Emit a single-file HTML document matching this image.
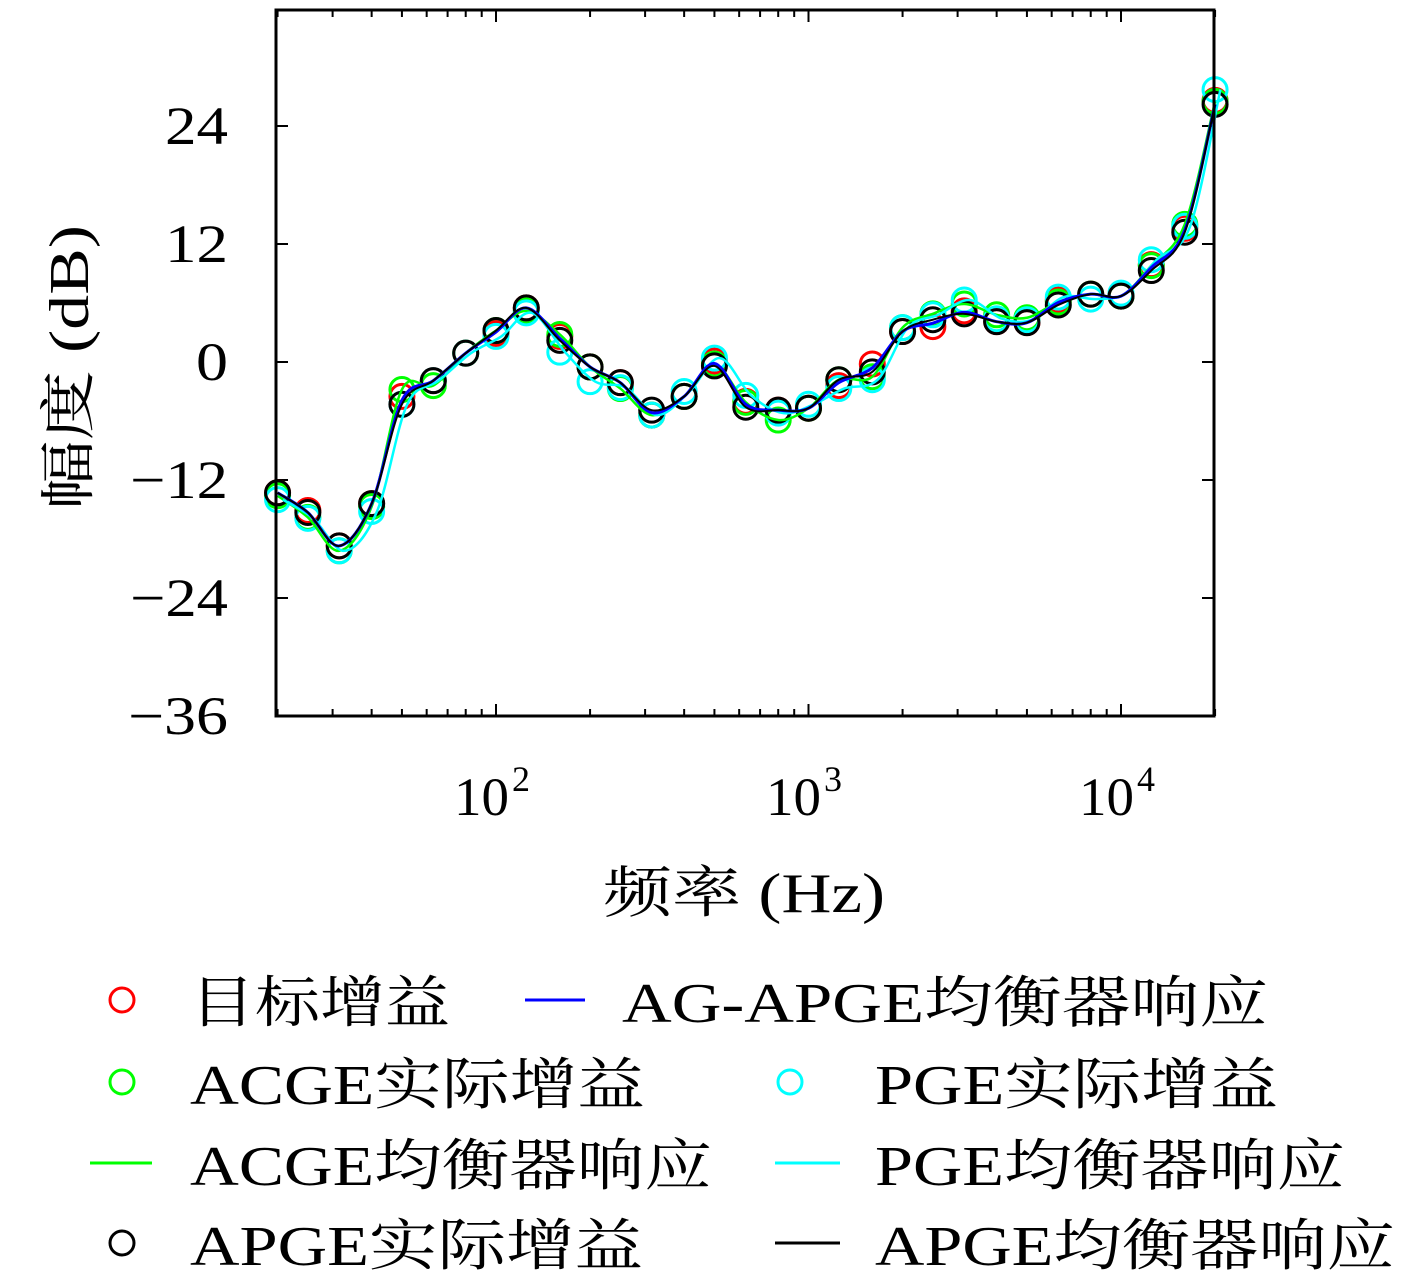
<!DOCTYPE html>
<html><head><meta charset="utf-8">
<style>
html,body{margin:0;padding:0;background:#fff;}
svg{display:block;}
text{font-family:"Liberation Serif","Noto Serif CJK SC",serif;fill:#000;}
</style></head>
<body>
<svg id="s" width="1417" height="1276" xmlns="http://www.w3.org/2000/svg">
<rect x="0" y="0" width="1417" height="1276" fill="#fff"/>
<g id="plot"></g>
<rect x="276" y="10" width="938" height="706" fill="none" stroke="#000" stroke-width="3"/>
<g font-size="54" lengthAdjust="spacingAndGlyphs">
<text x="165" y="144" textLength="63" lengthAdjust="spacingAndGlyphs">24</text>
<text x="165" y="262" textLength="63" lengthAdjust="spacingAndGlyphs">12</text>
<text x="196" y="380" textLength="32" lengthAdjust="spacingAndGlyphs">0</text>
<text x="130" y="498" textLength="98" lengthAdjust="spacingAndGlyphs">−12</text>
<text x="130" y="616" textLength="98" lengthAdjust="spacingAndGlyphs">−24</text>
<text x="128" y="734" textLength="100" lengthAdjust="spacingAndGlyphs">−36</text>
</g>
<g font-size="54">
<text x="454" y="815" textLength="55" lengthAdjust="spacingAndGlyphs">10</text><text x="512" y="791" font-size="36">2</text>
<text x="766" y="815" textLength="55" lengthAdjust="spacingAndGlyphs">10</text><text x="824" y="791" font-size="36">3</text>
<text x="1079" y="815" textLength="55" lengthAdjust="spacingAndGlyphs">10</text><text x="1137" y="791" font-size="36">4</text>
</g>
<text x="603" y="912" font-size="56" textLength="282" lengthAdjust="spacingAndGlyphs">频率 (Hz)</text>
<text transform="translate(88,510) rotate(-90)" font-size="56" textLength="285" lengthAdjust="spacingAndGlyphs">幅度 (dB)</text>
<g font-size="56">
<circle cx="122" cy="1000" r="12" fill="none" stroke="#f00" stroke-width="3"/>
<text x="190" y="1022" textLength="260" lengthAdjust="spacingAndGlyphs">目标增益</text>
<line x1="525" y1="1000" x2="585" y2="1000" stroke="#00f" stroke-width="3"/>
<text x="622" y="1022" textLength="646" lengthAdjust="spacingAndGlyphs">AG-APGE均衡器响应</text>
<circle cx="122" cy="1082" r="12" fill="none" stroke="#0f0" stroke-width="3"/>
<text x="190" y="1104" textLength="455" lengthAdjust="spacingAndGlyphs">ACGE实际增益</text>
<circle cx="790" cy="1082" r="12" fill="none" stroke="#0ff" stroke-width="3"/>
<text x="875" y="1104" textLength="403" lengthAdjust="spacingAndGlyphs">PGE实际增益</text>
<line x1="90" y1="1163" x2="152" y2="1163" stroke="#0f0" stroke-width="3"/>
<text x="190" y="1185" textLength="522" lengthAdjust="spacingAndGlyphs">ACGE均衡器响应</text>
<line x1="775" y1="1163" x2="840" y2="1163" stroke="#0ff" stroke-width="3"/>
<text x="875" y="1185" textLength="470" lengthAdjust="spacingAndGlyphs">PGE均衡器响应</text>
<circle cx="122" cy="1243" r="12" fill="none" stroke="#000" stroke-width="3"/>
<text x="190" y="1265" textLength="453" lengthAdjust="spacingAndGlyphs">APGE实际增益</text>
<line x1="775" y1="1243" x2="840" y2="1243" stroke="#000" stroke-width="3"/>
<text x="875" y="1265" textLength="520" lengthAdjust="spacingAndGlyphs">APGE均衡器响应</text>
</g>
</svg>
<script>
var f=[20,25,31.5,40,50,63,80,100,125,160,200,250,315,400,500,630,800,1000,1250,1600,2000,2500,3150,4000,5000,6300,8000,10000,12500,16000,20000];
var b=[-13.3,-15.3,-18.7,-14.4,-4.3,-1.9,0.9,3.2,5.5,2.2,-0.5,-2.1,-4.9,-3.5,-0.4,-4.6,-4.9,-4.7,-1.8,-1.0,3.1,4.3,4.9,4.1,4.0,5.8,6.9,6.7,9.3,13.2,26.2];
function X(v){return 496+312.5*(Math.log10(v)-2);}
function Y(v){return 362-v*118/12;}
var ns="http://www.w3.org/2000/svg",g=document.getElementById('plot');
function el(t,a){var e=document.createElementNS(ns,t);for(var k in a)e.setAttribute(k,a[k]);g.appendChild(e);return e;}
[126,244,362,480,598].forEach(function(y){el('line',{x1:276,y1:y,x2:288,y2:y,stroke:'#000','stroke-width':2});el('line',{x1:1202,y1:y,x2:1214,y2:y,stroke:'#000','stroke-width':2});});
for(var d=1;d<=4;d++)for(var m=1;m<10;m++){var v=m*Math.pow(10,d);if(v<20||v>20000)continue;var x=X(v),L=m==1?12:7;
el('line',{x1:x,y1:716,x2:x,y2:716-L,stroke:'#000','stroke-width':2});el('line',{x1:x,y1:10,x2:x,y2:10+L,stroke:'#000','stroke-width':2});}
function off(arr,s){return arr.map(function(v,i){return v+s[i%s.length];});}
var red=off(b,[0,0.2,0,0,0.8,0,0,-0.3,0,0.4,0,0,-0.5,0,0.5,0.6,0,0,-0.6,0.8,0,-0.7,0.3,0,0,0.5,0,0,0.6,0.4,0.4]);
var grn=off(b,[-0.3,-0.5,-0.5,-0.3,1.5,-0.5,0,0,-0.3,0.6,0,-0.6,-0.5,0,0.2,0.5,-1.0,0,0,-0.5,0.4,0.6,1.0,0.7,0.5,0.3,0,0,0.5,0.8,0.3]);
var cyn=off(b,[-0.7,-0.6,-0.5,-0.8,0,0,0,-0.6,-0.5,-1.2,-1.5,-0.5,-0.5,0.5,0.8,1.2,-0.3,0.4,-0.9,-0.8,0.4,0.5,1.4,0.3,0.3,0.8,-0.5,0.3,1.1,0.6,1.5]);
function path(vals,shift){var p=vals.map(function(v,i){return [X(f[i]*(shift||1)),Y(v)];});var d='M'+p[0][0]+','+p[0][1];
for(var i=0;i<p.length-1;i++){var p0=p[Math.max(i-1,0)],p1=p[i],p2=p[i+1],p3=p[Math.min(i+2,p.length-1)];
d+=' C'+(p1[0]+(p2[0]-p0[0])/6)+','+(p1[1]+(p2[1]-p0[1])/6)+' '+(p2[0]-(p3[0]-p1[0])/6)+','+(p2[1]-(p3[1]-p1[1])/6)+' '+p2[0]+','+p2[1];}return d;}
function circ(vals,c){vals.forEach(function(v,i){el('circle',{cx:X(f[i]),cy:Y(v),r:12,fill:'none',stroke:c,'stroke-width':3});});}
circ(red,'#f00');circ(grn,'#0f0');circ(cyn,'#0ff');circ(b,'#000');
el('path',{d:path(grn),fill:'none',stroke:'#0f0','stroke-width':2.5});
el('path',{d:path(cyn,1.04),fill:'none',stroke:'#0ff','stroke-width':2.5});
el('path',{d:path(b.map(function(v,i){return i>3&&i<30?(v+red[i])/2:v;})),fill:'none',stroke:'#00f','stroke-width':3});
el('path',{d:path(b),fill:'none',stroke:'#000','stroke-width':2});
</script>
</body></html>
